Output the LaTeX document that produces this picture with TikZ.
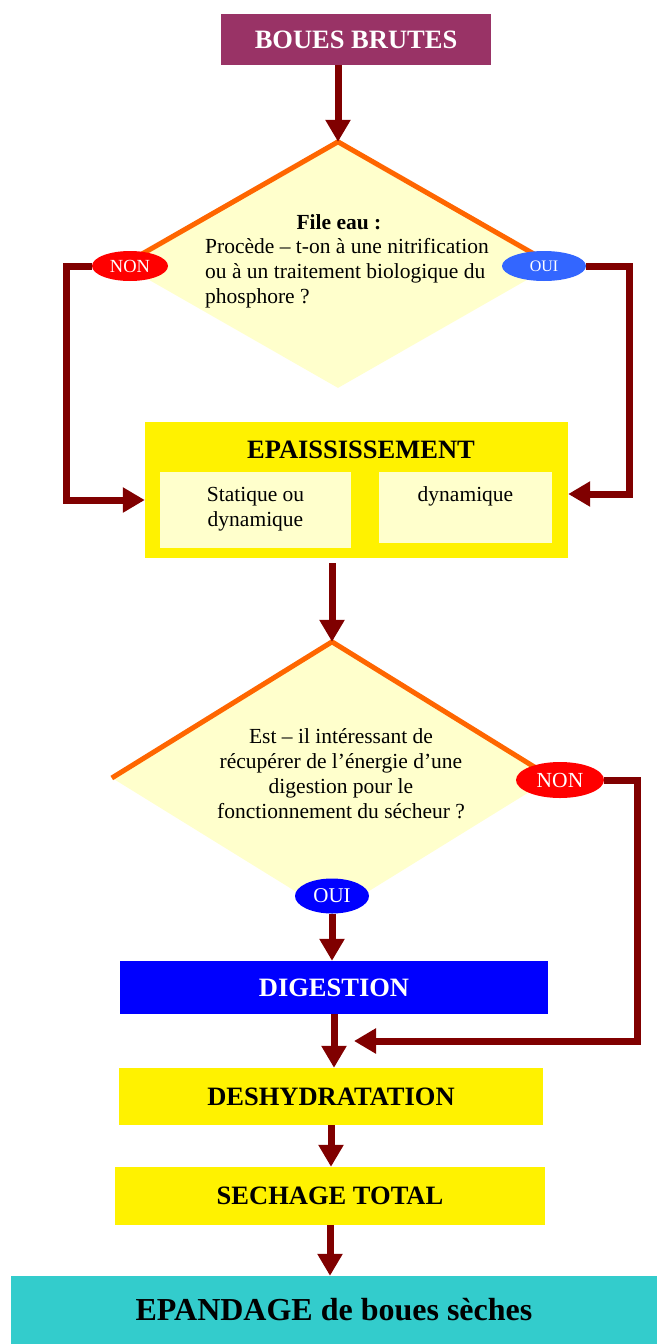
\documentclass[tikz,border=0pt]{standalone}
\usepackage{fontspec}
\setmainfont{Liberation Serif}
\usepackage{xcolor}
\usepackage{tikz}
\usetikzlibrary{shapes.geometric,arrows.meta,positioning,calc}

\definecolor{plum}{HTML}{993366}
\definecolor{darkred}{HTML}{800000}
\definecolor{edgeorange}{HTML}{FF6600}
\definecolor{paleyellow}{HTML}{FFFFCC}
\definecolor{lightblue}{HTML}{3366FF}
\definecolor{turquoise}{HTML}{33CCCC}

\begin{document}
\begin{tikzpicture}[x=1pt,y=-1pt,
    procbox/.style={rectangle,inner sep=0pt,font=\fontsize{26.5}{30}\selectfont\bfseries},
    subbox/.style={rectangle,fill=paleyellow,inner sep=0pt},
    decision/.style={diamond,fill=paleyellow,inner sep=0pt},
    topedge/.style={edgeorange,line width=5pt},
    answer/.style={ellipse,inner sep=0pt,text=white},
    question/.style={inner sep=0pt,font=\fontsize{21.5}{25}\selectfont},
    flow/.style={darkred,line width=7pt,-{Triangle[length=22pt,width=24pt]}}]
            \useasboundingbox (0,0) rectangle (657,1344);
            % raw sludge at the top
            \node[procbox,fill=plum,text=white,minimum width=270pt,minimum height=51pt] (brutes) at (356,39.5) {BOUES BRUTES};
            % first question: water line
            \node[decision,minimum width=430pt,minimum height=246pt] (q1) at (338,265) {};
            \draw[topedge] (q1.west) -- (q1.north) -- (q1.east);
            \node[question,font=\fontsize{21.5}{25}\selectfont\bfseries,anchor=base] (q1title) at (339,229) {File eau :};
            \node[question,align=left,anchor=north west] (q1text) at (205,238) {Procède -- t-on à une nitrification\\ou à un traitement biologique du\\phosphore ?};
            \node[answer,fill=red,minimum width=76pt,minimum height=30pt,font=\fontsize{18.5}{18}\selectfont] (non1) at (130,266) {NON};
            \node[answer,fill=lightblue,minimum width=84pt,minimum height=30pt,font=\fontsize{16}{16}\selectfont] (oui1) at (544,266) {OUI};
            % thickening box with its two choices
            \node[procbox,fill=yellow,minimum width=423pt,minimum height=136pt] (epais) at (356.5,490) {};
            \node[procbox,anchor=base] (epaistitle) at (361,458) {EPAISSISSEMENT};
            \node[subbox,minimum width=191pt,minimum height=76pt] (statique) at (255.5,510) {};
            \node[subbox,minimum width=173pt,minimum height=71pt] (dynamique) at (465.5,507.5) {};
            \node[question,align=center,anchor=north] (statiquetext) at ([yshift=-15pt]statique.north) {Statique ou\\dynamique};
            \node[question,anchor=north] (dynamiquetext) at ([yshift=-15pt]dynamique.north) {dynamique};
            % second question: digestion
            \node[decision,minimum width=440pt,minimum height=272pt] (q2) at (332,778) {};
            \draw[topedge] (q2.west) -- (q2.north) -- (q2.east);
            \node[question,align=center,anchor=north] (q2text) at (341,728) {Est -- il intéressant de\\récupérer de l’énergie d’une\\digestion pour le\\fonctionnement du sécheur ?};
            \node[answer,fill=red,minimum width=88pt,minimum height=36pt,font=\fontsize{21.5}{20}\selectfont] (non2) at (560,780) {NON};
            \node[answer,fill=blue,minimum width=74pt,minimum height=35pt,font=\fontsize{21}{20}\selectfont] (oui2) at (332,896) {OUI};
            % treatment chain
            \node[procbox,fill=blue,text=white,minimum width=428pt,minimum height=53pt] (digest) at (334,987.5) {DIGESTION};
            \node[procbox,fill=yellow,minimum width=424pt,minimum height=57pt] (deshyd) at (331,1096.5) {DESHYDRATATION};
            \node[procbox,fill=yellow,minimum width=430pt,minimum height=58pt] (sechage) at (330,1196) {SECHAGE TOTAL};
            \node[procbox,fill=turquoise,minimum width=646pt,minimum height=68pt,font=\fontsize{32}{34}\selectfont\bfseries] (epandage) at (334,1310) {EPANDAGE de boues sèches};
            \coordinate (merge) at (354,1041);
            % arrows between the steps
            \draw[flow] (brutes.south -| q1.north) -- (q1.north);
            \draw[flow] (non1.west) -- ++(-25,0) |- ([yshift=-10pt]epais.west);
            \draw[flow] (oui1.east) -- ++(43,0) |- ([yshift=-4pt]epais.east);
            \draw[flow] ([yshift=-5pt]epais.south -| q2.north) -- (q2.north);
            \draw[flow] (oui2.south) -- (oui2.south |- digest.north);
            \draw[flow] (non2.east) -- ++(33,0) |- (merge);
            \foreach \a/\b in {digest/deshyd,deshyd/sechage,sechage/epandage}
            {
                \draw[flow] (\a.south) -- (\a.south |- \b.north);
            }
        \end{tikzpicture}
\end{document}
